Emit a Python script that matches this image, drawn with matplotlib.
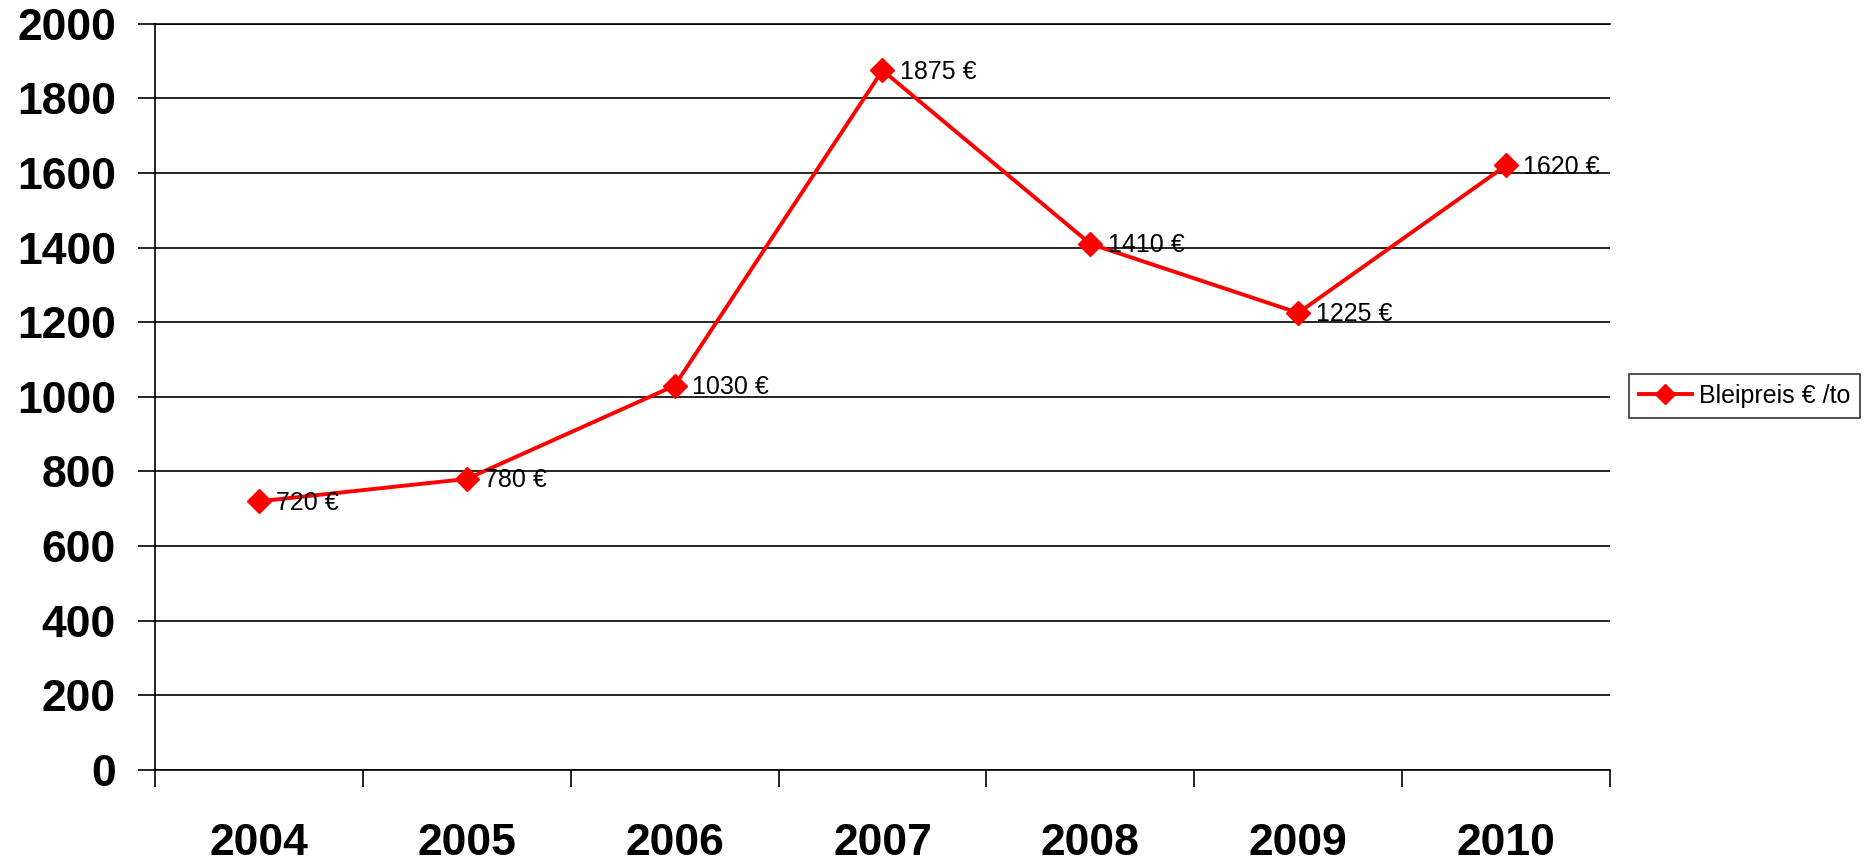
import matplotlib
matplotlib.use("Agg")
import matplotlib.pyplot as plt
import numpy as np

years = ["2004", "2005", "2006", "2007", "2008", "2009", "2010"]
prices = [720, 780, 1030, 1875, 1410, 1225, 1620]
labels = [f"{v} €" for v in prices]
y_ticks = [0, 200, 400, 600, 800, 1000, 1200, 1400, 1600, 1800, 2000]

plt.rcParams['font.family'] = ['Liberation Sans', 'DejaVu Sans']

fig = plt.figure(figsize=(18.7, 8.65), dpi=100)
ax = fig.add_axes([155/1870, 1-770/865, (1610-155)/1870, (770-23.7)/865])

x = np.arange(len(years))
ax.plot(x, prices, color='#ff0000', lw=2.8, marker='D', ms=12.5, label='Bleipreis € /to', zorder=3)
for xi, v, t in zip(x, prices, labels):
    ax.annotate(t, (xi, v), xytext=(12.5, -1), textcoords='offset points',
                ha='left', va='center', fontsize=18, color='black')

ax.set_xlim(-0.5, len(years) - 0.5)
ax.set_ylim(0, 2000)
ax.set_yticks(y_ticks)
ax.set_yticklabels([str(t) for t in y_ticks], fontsize=32, fontweight='bold')
ax.set_xticks(x)
ax.set_xticklabels(years, fontsize=32, fontweight='bold')
ax.tick_params(axis='x', length=0, pad=38)
ax.set_xticks(np.arange(len(years) + 1) - 0.5, minor=True)
ax.tick_params(axis='x', which='minor', length=12, width=1.2, direction='out')
ax.tick_params(axis='y', length=12, width=1.2, direction='out', pad=16)
ax.yaxis.grid(True, color='black', lw=1.2)
ax.set_axisbelow(True)
ax.spines['right'].set_visible(False)
for s in ['left', 'bottom', 'top']:
    ax.spines[s].set_linewidth(1.2)

leg = fig.legend(loc='center left', bbox_to_anchor=(1629/1870, 1-396/865), fontsize=18,
                 frameon=True, fancybox=False, edgecolor='black', borderpad=0.4,
                 handlelength=2.1, handletextpad=0.3, borderaxespad=0, markerscale=0.85)
leg.get_frame().set_linewidth(1.2)

fig.savefig('out.png', dpi=100)
